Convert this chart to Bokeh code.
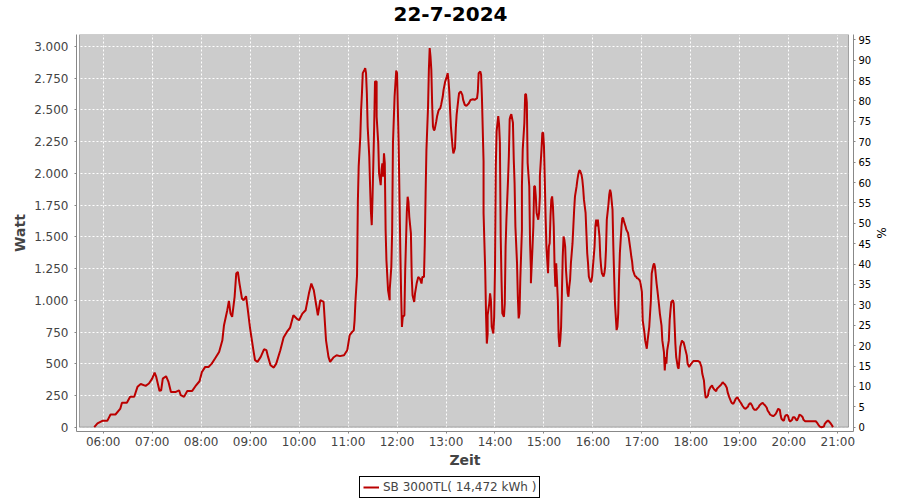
from bokeh.plotting import figure
from bokeh.layouts import column
from bokeh.models import (Range1d, LinearAxis, FixedTicker, BoxAnnotation, Label,
                          Legend, LegendItem, ColumnDataSource)
from bokeh.embed import file_html
from bokeh.resources import INLINE

TITLE = "22-7-2024"
X_LABEL = "Zeit"
Y_LABEL = "Watt"
Y2_LABEL = "%"
LEGEND_LABEL = "SB 3000TL( 14,472 kWh )"

TIMES = [
    "05:49", "05:53", "05:59",
    "06:05", "06:09", "06:15", "06:21", "06:23", "06:29", "06:33", "06:38", "06:42", "06:46", "06:52", "06:56",
    "07:00", "07:03", "07:05", "07:09", "07:11", "07:13", "07:17", "07:20", "07:23", "07:29", "07:33", "07:35",
    "07:39", "07:43", "07:49", "07:53", "07:58",
    "08:01", "08:05", "08:09", "08:13", "08:17", "08:22", "08:26", "08:28", "08:32", "08:34", "08:36", "08:38",
    "08:41", "08:43", "08:45", "08:47", "08:50", "08:52", "08:55", "08:57",
    "09:00", "09:04", "09:06", "09:09", "09:13", "09:17", "09:20", "09:22", "09:25", "09:29", "09:32", "09:37",
    "09:41", "09:45", "09:49", "09:53", "09:57",
    "10:00", "10:04", "10:08", "10:12", "10:15", "10:18", "10:21", "10:23", "10:26", "10:30", "10:33", "10:36",
    "10:38", "10:42", "10:46", "10:50", "10:55", "10:59",
    "11:02", "11:05", "11:07", "11:08", "11:09", "11:11", "11:12", "11:13", "11:15", "11:16", "11:17", "11:18",
    "11:20", "11:21", "11:22", "11:23", "11:24", "11:26", "11:27", "11:28", "11:29", "11:30", "11:31", "11:32",
    "11:33", "11:35", "11:35", "11:37", "11:38", "11:40", "11:41", "11:42", "11:43", "11:44", "11:45", "11:46",
    "11:47", "11:49", "11:51", "11:51", "11:53", "11:54", "11:55", "11:57", "11:59",
    "12:00", "12:02", "12:03", "12:04", "12:05", "12:06", "12:07", "12:09", "12:10", "12:12", "12:13", "12:14",
    "12:15", "12:17", "12:18", "12:19", "12:21", "12:22", "12:24", "12:26", "12:28", "12:30", "12:31", "12:33",
    "12:34", "12:35", "12:36", "12:38", "12:39", "12:40", "12:41", "12:42", "12:43", "12:44", "12:45", "12:46",
    "12:48", "12:49", "12:51", "12:53", "12:54", "12:56", "12:57", "12:59",
    "13:01", "13:02", "13:03", "13:04", "13:05", "13:06", "13:08", "13:09", "13:11", "13:12", "13:13", "13:15",
    "13:16", "13:18", "13:20", "13:21", "13:23", "13:25", "13:28", "13:30", "13:33", "13:35", "13:38", "13:39",
    "13:40", "13:42", "13:43", "13:44", "13:46", "13:46", "13:48", "13:49", "13:50", "13:51", "13:51", "13:53",
    "13:54", "13:55", "13:56", "13:58", "13:59",
    "14:00", "14:01", "14:02", "14:04", "14:05", "14:06", "14:07", "14:08", "14:09", "14:11", "14:12", "14:13",
    "14:14", "14:16", "14:17", "14:18", "14:19", "14:20", "14:22", "14:23", "14:24", "14:25", "14:27", "14:28",
    "14:29", "14:30", "14:31", "14:33", "14:33", "14:34", "14:36", "14:37", "14:38", "14:39", "14:40", "14:42",
    "14:43", "14:44", "14:44", "14:46", "14:47", "14:48", "14:49", "14:50", "14:51", "14:53", "14:54", "14:55",
    "14:55", "14:57", "14:58", "14:59",
    "15:00", "15:01", "15:02", "15:03", "15:04", "15:05", "15:06", "15:07", "15:08", "15:09", "15:10", "15:11",
    "15:12", "15:13", "15:14", "15:15", "15:17", "15:18", "15:19", "15:20", "15:21", "15:22", "15:23", "15:24",
    "15:25", "15:26", "15:27", "15:29", "15:30", "15:31", "15:32", "15:33", "15:35", "15:36", "15:37", "15:38",
    "15:40", "15:41", "15:42", "15:43", "15:44", "15:46", "15:47", "15:48", "15:49", "15:51", "15:52", "15:53",
    "15:54", "15:55", "15:57", "15:58", "15:59",
    "16:00", "16:02", "16:03", "16:04", "16:05", "16:06", "16:08", "16:09", "16:10", "16:11", "16:13", "16:14",
    "16:15", "16:16", "16:17", "16:19", "16:20", "16:21", "16:22", "16:24", "16:25", "16:26", "16:27", "16:29",
    "16:30", "16:31", "16:32", "16:33", "16:35", "16:36", "16:37", "16:38", "16:40", "16:41", "16:42", "16:43",
    "16:44", "16:46", "16:47", "16:48", "16:49", "16:51", "16:52", "16:53", "16:54", "16:55", "16:57",
    "16:58", "17:00", "17:01", "17:03", "17:04", "17:06", "17:07", "17:09", "17:11", "17:12", "17:14", "17:15",
    "17:16", "17:18", "17:19", "17:21", "17:22", "17:24", "17:25", "17:27", "17:28", "17:29", "17:30", "17:31",
    "17:33", "17:34", "17:35", "17:36", "17:38", "17:39", "17:40", "17:41", "17:42", "17:44", "17:45", "17:46",
    "17:47", "17:49", "17:50", "17:51", "17:52", "17:53", "17:55", "17:56", "17:58", "17:59",
    "18:01", "18:03", "18:05", "18:07", "18:09", "18:11", "18:13", "18:14", "18:16", "18:17", "18:18", "18:19",
    "18:21", "18:22", "18:24", "18:26", "18:27", "18:29", "18:31", "18:32", "18:34", "18:36", "18:37", "18:39",
    "18:40", "18:42", "18:44", "18:45", "18:47", "18:49", "18:50", "18:52", "18:53", "18:55", "18:57", "18:58",
    "19:00", "19:02", "19:03", "19:05", "19:07", "19:08", "19:10", "19:11", "19:13", "19:15", "19:16", "19:18",
    "19:20", "19:21", "19:23", "19:24", "19:26", "19:28", "19:29", "19:31", "19:33", "19:34", "19:36", "19:37",
    "19:39", "19:41", "19:42", "19:44", "19:46", "19:47", "19:49", "19:50", "19:51", "19:53", "19:54", "19:55",
    "19:56", "19:58", "19:59",
    "20:00", "20:01", "20:02", "20:04", "20:05", "20:07", "20:09", "20:10", "20:12", "20:13", "20:15", "20:17",
    "20:18", "20:20", "20:33", "20:35", "20:36", "20:38", "20:40", "20:43", "20:44", "20:46", "20:48", "20:49",
    "20:51", "20:53", "20:54",
]

WATT = [
    0, 30, 50,
    50, 100, 100, 147, 192, 192, 240, 240, 318, 340, 326, 344,
    383, 430, 396, 286, 291, 383, 402, 357, 278, 278, 291, 252,
    239, 286, 286, 323, 362,
    436, 475, 475, 501, 541, 593, 685, 804, 922, 995, 895, 869,
    1027, 1211, 1224, 1132, 1014, 1001, 1032, 935,
    777, 607, 528, 515, 554, 614, 607, 554, 488, 470, 501, 607,
    706, 751, 785, 882, 856,
    843, 895, 922, 1053, 1132, 1080, 961, 882, 1001, 988, 685, 554,
    515, 549, 567, 560, 567, 607,
    725, 751, 763, 842, 987, 1197, 1776, 2053, 2290, 2500, 2632, 2790,
    2816, 2830, 2790, 2632, 2369, 2132, 1895, 1698, 1592, 1816, 2092, 2369,
    2724, 2724, 2448, 2237, 2000, 1908, 2027, 2079, 1974, 2158, 2079, 1553,
    1316, 1079, 1000, 1079, 1263, 1540, 2237, 2606, 2811,
    2790, 2224, 1816, 1395, 1053, 790, 869, 882, 1237, 1698, 1816, 1776,
    1658, 1527, 1184, 1040, 987, 1053, 1132, 1184, 1171, 1132, 1184, 1184,
    1448, 1842, 2184, 2527, 2816, 2987, 2921, 2816, 2553, 2369, 2343, 2343,
    2408, 2448, 2500, 2513, 2540, 2606, 2658, 2724,
    2763, 2790, 2737, 2645, 2500, 2369, 2211, 2158, 2198, 2355, 2461, 2579,
    2632, 2645, 2619, 2579, 2540, 2532, 2553, 2579, 2584, 2579, 2592, 2645,
    2790, 2803, 2777, 2600, 2096, 1688, 1239, 897, 659, 738, 883, 976,
    1055, 1002, 791, 738, 870,
    1239, 2057, 2334, 2452, 2386, 2241, 1503, 1160, 897, 870, 976, 1424,
    1635, 1951, 2136, 2426, 2452, 2466, 2399, 2110, 1925, 1582, 1292, 1028,
    857, 897, 1160, 1556, 1899, 2189, 2399, 2624, 2624, 2558, 2083, 1899,
    1450, 1239, 1134, 1424, 1582, 1899, 1899, 1819, 1688, 1635, 1688, 1819,
    1978, 2189, 2320, 2320,
    2215, 1951, 1661, 1424, 1318, 1213, 1424, 1450, 1661, 1793, 1819, 1740,
    1582, 1266, 1107, 1292, 1002, 712, 633, 686, 791, 1055, 1345, 1503,
    1477, 1424, 1239, 1055, 1028, 1107, 1160, 1292, 1450, 1582, 1714, 1819,
    1899, 1951, 1991, 2017, 2025, 1991, 1951, 1885, 1793, 1688, 1530, 1371,
    1292, 1187, 1147, 1147, 1187,
    1266, 1424, 1582, 1635, 1582, 1635, 1503, 1345, 1266, 1213, 1187, 1213,
    1266, 1398, 1635, 1754, 1833, 1872, 1846, 1714, 1424, 1187, 976, 765,
    791, 897, 1174, 1371, 1582, 1648, 1648, 1622, 1582, 1556, 1543, 1530,
    1490, 1398, 1345, 1305, 1239, 1200, 1187, 1187, 1173, 1173, 1160,
    1145, 1066, 842, 750, 684, 618, 684, 790, 1000, 1211, 1276, 1290,
    1263, 1132, 1079, 961, 895, 803, 684, 592, 447, 553, 500, 605,
    684, 842, 921, 987, 1000, 974, 816, 658, 553, 474, 461, 540,
    632, 684, 671, 671, 645, 618, 566, 500, 474, 487,
    505, 521, 521, 521, 521, 513, 474, 421, 368, 289, 237, 232,
    250, 289, 316, 329, 311, 295, 284, 303, 316, 329, 334, 355,
    347, 334, 311, 276, 237, 205, 192, 184, 197, 224, 237, 224,
    203, 184, 171, 153, 145, 150, 163, 179, 190, 171, 153, 137,
    137, 145, 158, 171, 184, 192, 184, 171, 153, 132, 113, 100,
    92, 87, 92, 105, 132, 145, 137, 92, 66, 53, 53, 79,
    92, 97, 87,
    66, 47, 47, 58, 79, 79, 58, 53, 79, 100, 92, 79,
    58, 47, 47, 32, 21, 5, 0, 5, 26, 42, 53, 47,
    32, 13, 0,
]

assert len(TIMES) == len(WATT), (len(TIMES), len(WATT))

X_TICK_LABELS = ["06:00", "07:00", "08:00", "09:00", "10:00", "11:00", "12:00", "13:00",
                 "14:00", "15:00", "16:00", "17:00", "18:00", "19:00", "20:00", "21:00"]
Y_TICKS = [0, 250, 500, 750, 1000, 1250, 1500, 1750, 2000, 2250, 2500, 2750, 3000]
Y_TICK_LABELS = ["0", "250", "500", "750", "1.000", "1.250", "1.500", "1.750",
                 "2.000", "2.250", "2.500", "2.750", "3.000"]
PCT_TICKS = [0, 5, 10, 15, 20, 25, 30, 35, 40, 45, 50, 55, 60, 65, 70, 75, 80, 85, 90, 95]

# axis ranges (plot area) and outer frame ranges
X_AXIS_MIN, X_AXIS_MAX = 5.516, 21.2185
X_FRAME_MIN, X_FRAME_MAX = 5.4548, 21.3206
Y_AXIS_MIN, Y_AXIS_MAX = 0, 3094.6
Y_FRAME_MIN = -33.9
PCT_MIN, PCT_MAX = -1.05, 96.3

# layout (pixels)
CANVAS_W = 900
LEFT, RIGHT = 76, 47
FRAME_W, FRAME_H = 777, 397
TITLE_H, LEGEND_H = 26, 29


def to_hours(s):
    h, m = s.split(":")
    return int(h) + int(m) / 60.0


x_ticks = [to_hours(s) for s in X_TICK_LABELS]
x_vals = [to_hours(t) for t in TIMES]
src = ColumnDataSource(dict(x=x_vals, y=WATT))

FONT = "DejaVu Sans"
AX_GRAY = "#888888"
TXT = "#444444"
RED = "#bb0000"


def strip(height, x_range, y_range):
    f = figure(frame_width=FRAME_W, frame_height=height, x_range=x_range, y_range=y_range,
               output_backend="svg", toolbar_location=None, title=None,
               x_axis_location=None, y_axis_location=None,
               min_border_left=LEFT, min_border_right=RIGHT, min_border_top=0, min_border_bottom=0,
               background_fill_color="white", border_fill_color="white", outline_line_color=None)
    f.xgrid.visible = False
    f.ygrid.visible = False
    return f


# ---- title strip (title centred on the whole canvas)
t = strip(TITLE_H, Range1d(X_FRAME_MIN, X_FRAME_MAX), Range1d(0, TITLE_H))
px_per_hour = FRAME_W / (X_FRAME_MAX - X_FRAME_MIN)
t.add_layout(Label(x=X_FRAME_MIN + (CANVAS_W / 2 - LEFT) / px_per_hour, y=TITLE_H / 2, text=TITLE,
                   text_align="center", text_baseline="middle", text_font=FONT,
                   text_font_size="20px", text_font_style="bold", text_color="black"))

# ---- main chart
p = figure(frame_width=FRAME_W, frame_height=FRAME_H,
           x_range=Range1d(X_FRAME_MIN, X_FRAME_MAX),
           y_range=Range1d(Y_FRAME_MIN, Y_AXIS_MAX),
           output_backend="svg", toolbar_location=None, title=None,
           min_border_left=LEFT, min_border_right=RIGHT, min_border_top=8, min_border_bottom=40,
           background_fill_color="white", border_fill_color="white",
           outline_line_color=None)

# plot area background + outline
p.add_layout(BoxAnnotation(left=X_AXIS_MIN, right=X_AXIS_MAX, bottom=Y_AXIS_MIN, top=Y_AXIS_MAX,
                           fill_color="#cccccc", fill_alpha=1.0, line_color=None, level="image"))

# grids
p.xgrid.ticker = FixedTicker(ticks=x_ticks)
p.ygrid.ticker = FixedTicker(ticks=Y_TICKS)
for g in (p.xgrid, p.ygrid):
    g.grid_line_color = "white"
    g.grid_line_dash = "2 2"
    g.grid_line_width = 1

p.add_layout(BoxAnnotation(left=X_AXIS_MIN, right=X_AXIS_MAX, bottom=Y_AXIS_MIN, top=Y_AXIS_MAX,
                           fill_alpha=0, fill_color=None, line_color="black", line_width=1,
                           level="underlay"))

r = p.line("x", "y", source=src, line_color=RED, line_width=2)

# x axis
xa = p.xaxis[0]
xa.ticker = FixedTicker(ticks=x_ticks)
xa.major_label_overrides = {tk: lab for tk, lab in zip(x_ticks, X_TICK_LABELS)}
xa.axis_label = X_LABEL

# left axis
ya = p.yaxis[0]
ya.ticker = FixedTicker(ticks=Y_TICKS)
ya.major_label_overrides = {tk: lab for tk, lab in zip(Y_TICKS, Y_TICK_LABELS)}
ya.axis_label = Y_LABEL

# right axis
p.extra_y_ranges = {"pct": Range1d(PCT_MIN, PCT_MAX)}
ra = LinearAxis(y_range_name="pct", ticker=FixedTicker(ticks=PCT_TICKS), axis_label=Y2_LABEL)
p.add_layout(ra, "right")

for ax in (xa, ya, ra):
    ax.axis_line_color = AX_GRAY
    ax.major_tick_line_color = AX_GRAY
    ax.major_tick_out = 2
    ax.major_tick_in = 0
    ax.minor_tick_line_color = None
    ax.major_label_text_font = FONT
    ax.axis_label_text_font = FONT
    ax.axis_label_text_font_style = "bold"

xa.major_label_text_font_size = "12px"
ya.major_label_text_font_size = "12px"
xa.major_label_text_color = TXT
ya.major_label_text_color = TXT
xa.axis_label_text_font_size = "14px"
ya.axis_label_text_font_size = "14px"
xa.axis_label_text_color = TXT
ya.axis_label_text_color = TXT
xa.major_label_standoff = 1
ya.major_label_standoff = 6
xa.axis_label_standoff = 0
ya.axis_label_standoff = 3

ra.major_label_text_font_size = "10px"
ra.major_label_text_color = "black"
ra.major_label_standoff = 3
ra.axis_label_text_font_size = "12px"
ra.axis_label_text_font_style = "normal"
ra.axis_label_text_color = "black"
ra.axis_label_standoff = 0

# ---- legend strip underneath the chart (the series line is out of view here;
#      it only supplies the legend glyph)
q = strip(LEGEND_H, Range1d(0, 1), Range1d(0, 1))
lr = q.line(x=x_vals, y=WATT, line_color=RED, line_width=2)
legend = Legend(items=[LegendItem(label=LEGEND_LABEL, renderers=[lr])],
                location=(359 - LEFT, 2), orientation="horizontal",
                border_line_color="black", border_line_width=1, border_line_alpha=1,
                background_fill_color="white", background_fill_alpha=1,
                label_text_font=FONT, label_text_font_size="12px", label_text_color=TXT,
                glyph_width=16, glyph_height=10, label_height=14, label_standoff=4,
                padding=3, margin=0, spacing=0)
q.add_layout(legend, "center")

layout = column(t, p, q, spacing=0)
open("out.html", "w").write(file_html(layout, INLINE))
